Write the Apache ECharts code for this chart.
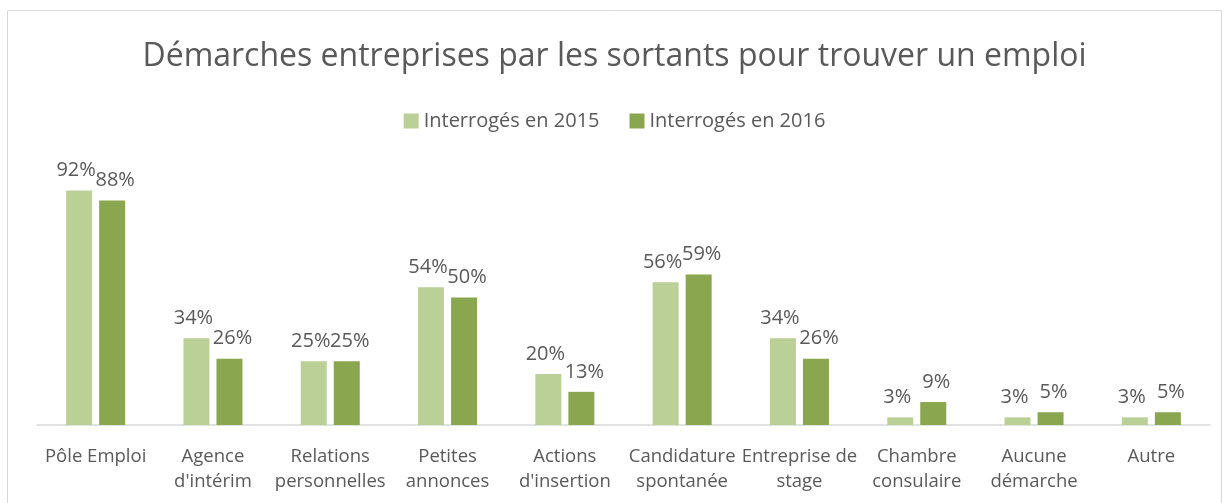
<!DOCTYPE html>
<html>
<head>
<meta charset="utf-8">
<script src="https://cdn.jsdelivr.net/npm/echarts@6/dist/echarts.min.js"></script>
<style>
  html, body { margin: 0; padding: 0; background: #fff; }
  #chart { width: 1229px; height: 503px; }
</style>
</head>
<body>
<div id="chart"></div>
<script>
var categories = ['Pôle Emploi', "Agence\nd'intérim", 'Relations\npersonnelles', 'Petites\nannonces', "Actions\nd'insertion",
  'Candidature\nspontanée', 'Entreprise de\nstage', 'Chambre\nconsulaire', 'Aucune\ndémarche', 'Autre'];
var values2015 = [92, 34, 25, 54, 20, 56, 34, 3, 3, 3];
var values2016 = [88, 26, 25, 50, 13, 59, 26, 9, 5, 5];
var seriesNames = ['Interrogés en 2015', 'Interrogés en 2016'];

var chartDom = document.getElementById('chart');
var myChart = echarts.init(chartDom);
var font = 'Open Sans';
var textColor = '#595959';

var labelStyle = {
  show: true,
  position: 'top',
  distance: 10,
  fontFamily: font,
  fontSize: 20,
  color: textColor,
  formatter: '{c}%'
};

var option = {
  animation: false,
  graphic: [{
    type: 'rect',
    shape: { x: 7.5, y: 10.5, width: 1214, height: 500 },
    style: { fill: 'none', stroke: '#d9d9d9', lineWidth: 1 }
  }],
  title: {
    text: 'Démarches entreprises par les sortants pour trouver un emploi',
    left: 'center',
    top: 36,
    textStyle: { fontFamily: font, fontSize: 32, fontWeight: 'normal', color: textColor }
  },
  legend: {
    top: 106,
    left: 'center',
    itemWidth: 15,
    itemHeight: 15,
    itemGap: 30,
    icon: 'rect',
    textStyle: { fontFamily: font, fontSize: 20, color: textColor },
    data: seriesNames
  },
  grid: { left: 37, right: 19, top: 170, bottom: 78 },
  xAxis: {
    type: 'category',
    data: categories,
    axisLine: { lineStyle: { color: '#d9d9d9', width: 1.5 } },
    axisTick: { show: false },
    axisLabel: {
      interval: 0,
      margin: 19,
      fontFamily: font,
      fontSize: 18.5,
      lineHeight: 25,
      color: textColor
    }
  },
  yAxis: {
    type: 'value',
    min: 0,
    max: 100,
    show: false
  },
  series: [
    {
      name: seriesNames[0],
      type: 'bar',
      data: values2015,
      barWidth: 26,
      barGap: '27%',
      itemStyle: { color: '#BBD097' },
      label: Object.assign({}, labelStyle, { offset: [-3, 0] })
    },
    {
      name: seriesNames[1],
      type: 'bar',
      data: values2016,
      barWidth: 26,
      itemStyle: { color: '#8AA64E' },
      label: Object.assign({}, labelStyle, { offset: [3, 0] })
    }
  ]
};

myChart.setOption(option);
</script>
</body>
</html>
